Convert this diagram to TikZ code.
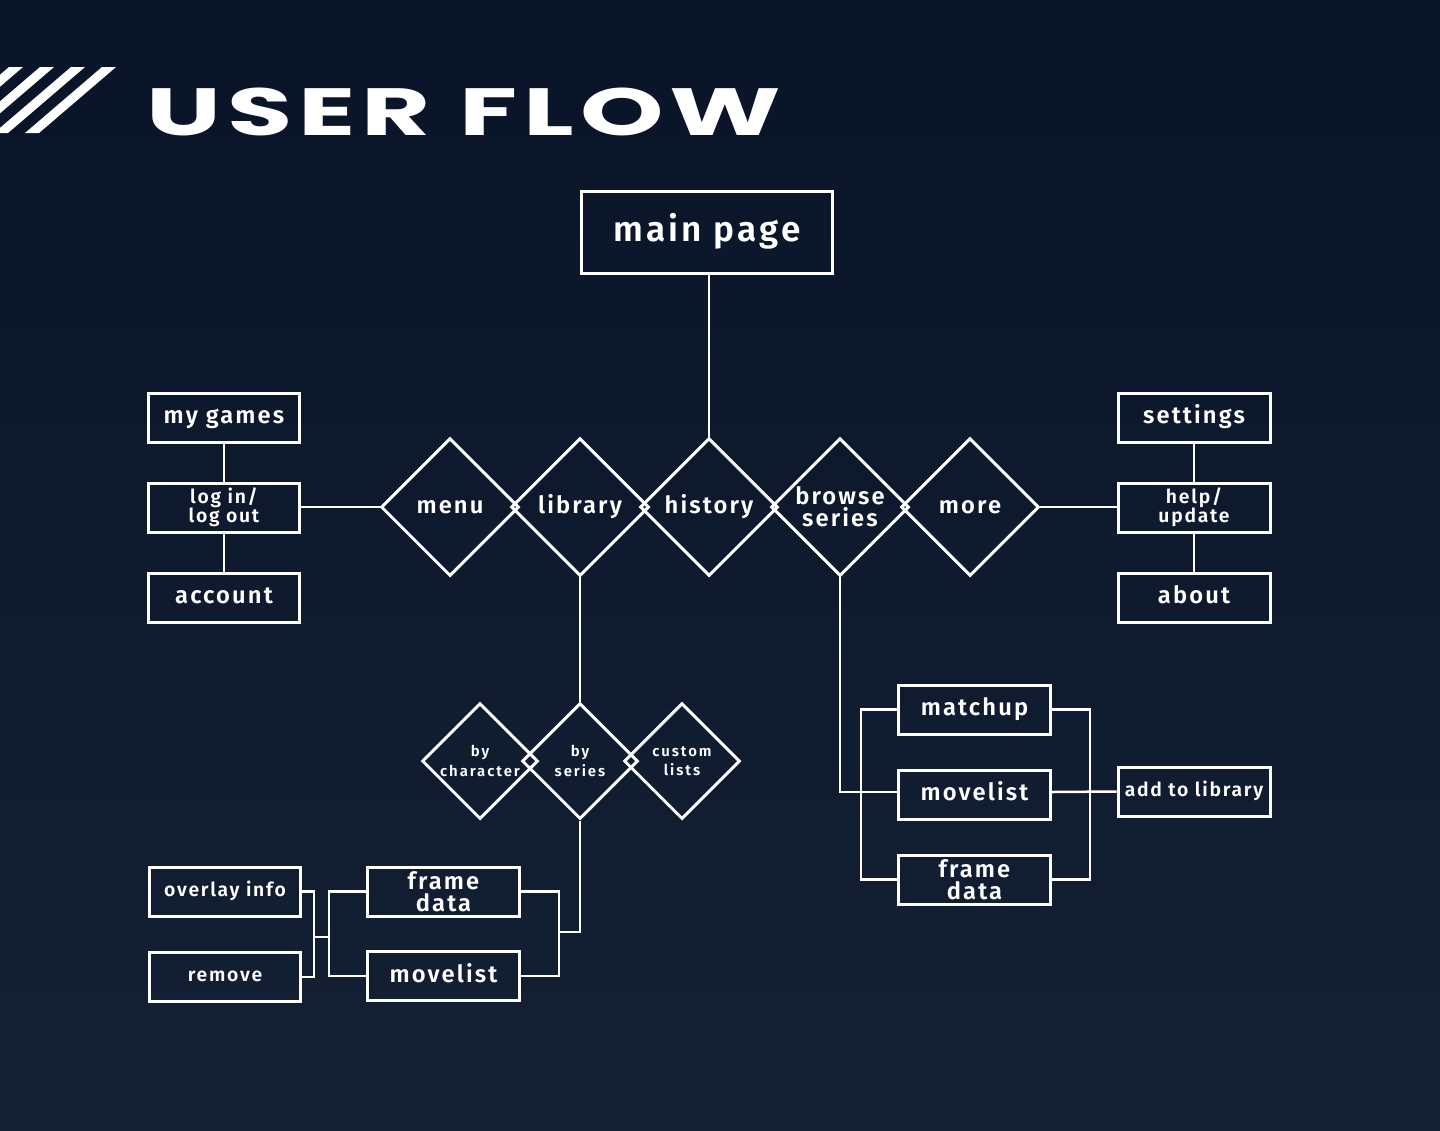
\documentclass[tikz,border=0pt]{standalone}
\usepackage{fontspec}
\setmainfont{Fira Sans}[LetterSpace=9,BoldFont={Fira Sans SemiBold}]
\newfontfamily\titlefont{Poppins}[FakeStretch=1.59,LetterSpace=9]
\usetikzlibrary{shapes.geometric}
\definecolor{bgtop}{RGB}{9,20,40}
\definecolor{bgbot}{RGB}{20,32,52}
\tikzset{
  flowbox/.style={draw=white,line width=0.06cm,minimum width=3.04cm,minimum height=0.98cm,inner sep=0pt,align=center,text=white},
  flowdia/.style={diamond,draw=white,line width=0.06cm,minimum width=2.76cm,minimum height=2.76cm,inner sep=0pt,aspect=1,align=center,text=white},
  smalldia/.style={flowdia,minimum width=2.32cm,minimum height=2.32cm},
  big/.style={font=\bfseries\fontsize{13.5}{11.5}\selectfont,text height=7.3pt,text depth=0pt},
  twoline/.style={font=\bfseries\fontsize{13.5}{12.3}\selectfont},
  mid/.style={font=\bfseries\fontsize{11}{11}\selectfont,text height=5.5pt,text depth=0pt},
  midtwo/.style={font=\bfseries\fontsize{11}{11}\selectfont},
  tiny/.style={font=\bfseries\addfontfeature{LetterSpace=13}\fontsize{8.5}{11}\selectfont},
  wire/.style={draw=white,line width=0.05cm}
}
\begin{document}
\begin{tikzpicture}[x=0.02cm,y=-0.02cm]
  \useasboundingbox (0,0) rectangle (1440,1130);
  \shade [top color=bgtop, bottom color=bgbot] (0,0) rectangle (1440,1130);

  % title
  \foreach \s in {-68,-37,-6,25}
    \fill [white] (\s,133) -- (\s+14,133) -- (\s+91,67) -- (\s+77,67) -- cycle;
  \node [anchor=base west,inner sep=0pt,text=white,font=\titlefont\bfseries\fontsize{38}{38}\selectfont] (title) at (146,135) {USER FLOW};

  % top
  \node [flowbox,minimum width=5.04cm,minimum height=1.64cm,font=\bfseries\fontsize{20}{20}\selectfont,text height=10.3pt,text depth=0pt] (main) at (707,232) {main page};

  \node [flowdia,big] (menu) at (450,507) {menu};
  \node [flowdia,big] (library) at (580,507) {library};
  \node [flowdia,big] (history) at (709,507) {history};
  \node [flowdia,twoline] (browse) at (840,507) {browse\\series};
  \node [flowdia,big] (more) at (970,507) {more};

  % left column
  \node [flowbox,big] (mygames) at (224,417.5) {my games};
  \node [flowbox,midtwo] (login) at (224,507.5) {log in/\\log out};
  \node [flowbox,big] (account) at (224,597.5) {account};

  % right column
  \node [flowbox,big] (settings) at (1194,417.5) {settings};
  \node [flowbox,midtwo] (help) at (1194,507.5) {help/\\update};
  \node [flowbox,big] (about) at (1194,597.5) {about};

  % library branch
  \node [smalldia,tiny] (bychar) at (480,761) {by\\character};
  \node [smalldia,tiny] (byseries) at (580,761) {by\\series};
  \node [smalldia,tiny] (custom) at (682,761) {custom\\lists};

  \node [flowbox,mid] (overlay) at (225,891.5) {overlay info};
  \node [flowbox,mid] (remove) at (225,977) {remove};
  \node [flowbox,twoline] (frameA) at (443.5,891.5) {frame\\data};
  \node [flowbox,big] (moveA) at (443.5,976) {movelist};

  % browse branch
  \node [flowbox,big] (matchup) at (974.5,709.5) {matchup};
  \node [flowbox,big] (moveB) at (974.5,794.5) {movelist};
  \node [flowbox,twoline] (frameB) at (974.5,879.5) {frame\\data};
  \node [flowbox,mid] (addlib) at (1194,791.5) {add to library};

  \coordinate (joinA) at (559,932);
  \coordinate (forkA) at (329,937);
  \coordinate (forkO) at (314,937);
  \coordinate (forkB) at (861,792);
  \coordinate (joinB) at (1090,792);

  \draw [wire] (main.south -| history.north) -- (history.north);
  \draw [wire] (menu.west) -- (menu.west -| login.east);
  \draw [wire] (mygames) -- (login);
  \draw [wire] (login) -- (account);
  \draw [wire] (more.east) -- (more.east -| help.west);
  \draw [wire] (settings) -- (help);
  \draw [wire] (help) -- (about);
  \draw [wire] (library.south) -- (byseries.north);
  \draw [wire] (byseries.south) |- (joinA);
  \draw [wire] (frameA.east) -| (joinA) |- (moveA.east);
  \draw [wire] (frameA.west) -| (forkA) |- (moveA.west);
  \draw [wire] (overlay.east) -| (forkO) |- (remove.east);
  \draw [wire] (forkO) -- (forkA);
  \draw [wire] (browse.south) |- (forkB) -- (forkB -| moveB.west);
  \draw [wire] (matchup.west) -| (forkB) |- (frameB.west);
  \draw [wire] (matchup.east) -| (joinB) |- (frameB.east);
  \draw [wire] (joinB -| moveB.east) -- (addlib.west);
\end{tikzpicture}
\end{document}
